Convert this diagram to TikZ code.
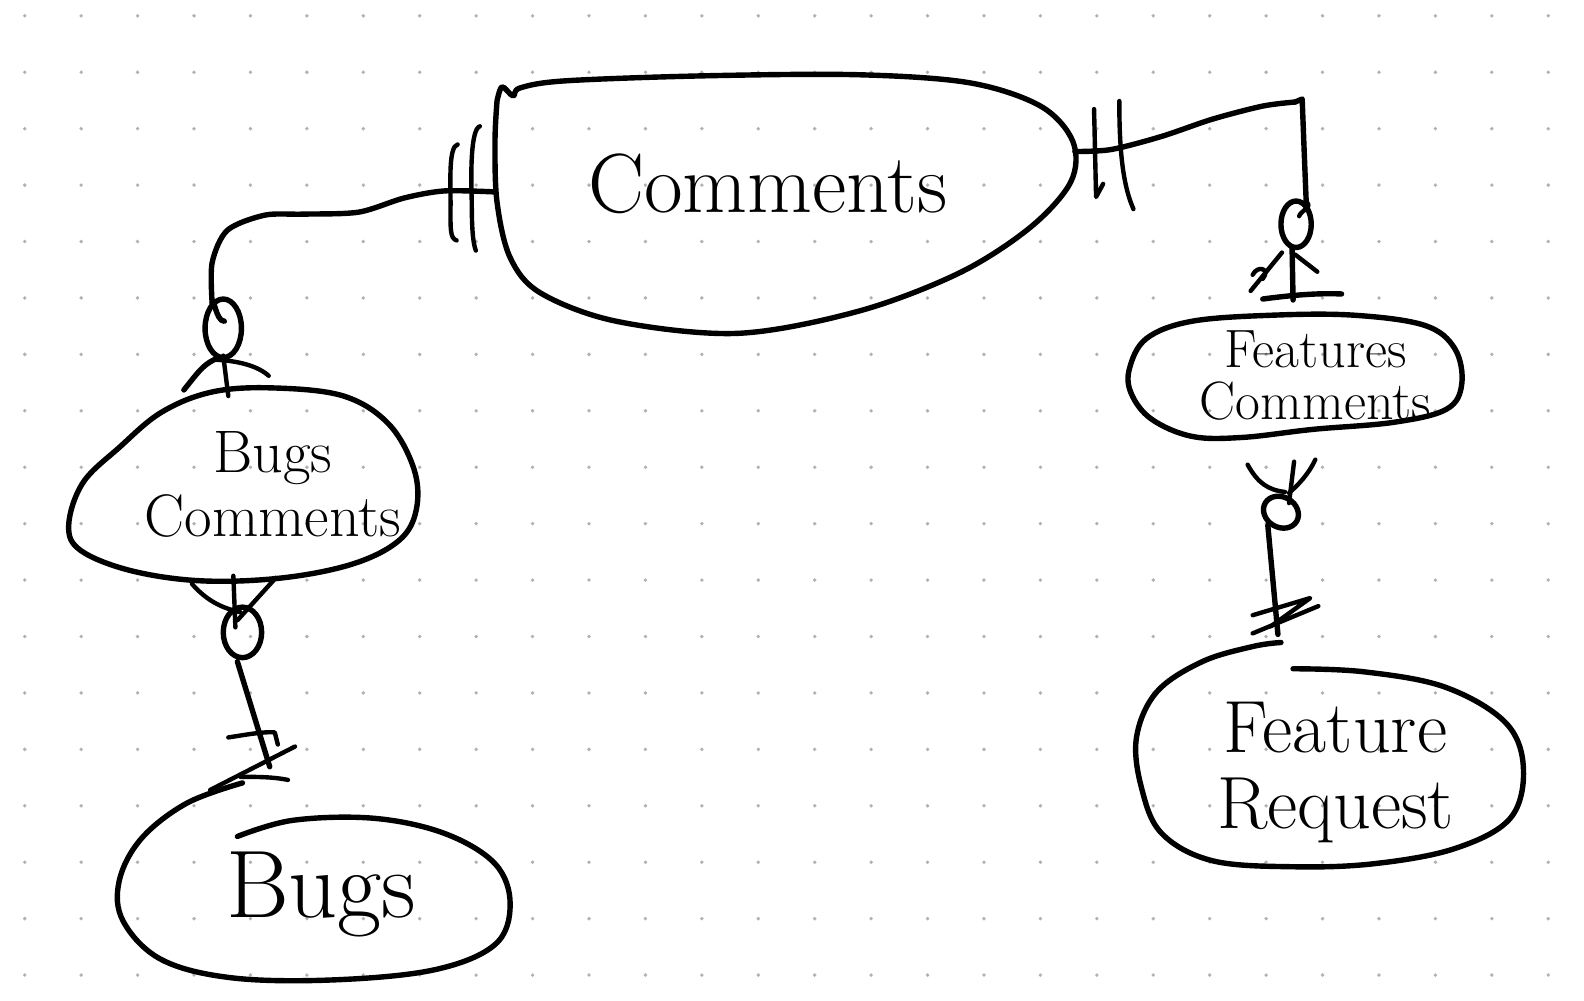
\documentclass[tikz,border=0pt]{standalone}
\usetikzlibrary{calc}
\begin{document}
\begin{tikzpicture}[x=1.0102pt,y=-1.0102pt,
  ink/.style={line width=5.4pt,line cap=round,line join=round,black},
  thin ink/.style={line width=4.4pt,line cap=round,line join=round,black},
  label/.style={align=center,inner sep=0pt}]
\useasboundingbox[fill=white] (0,0) rectangle (1568,990);
% dot grid (full-size pixel coords)
\begin{scope}[x=0.98990pt,y=-0.98990pt]
\foreach \i in {0,...,27}{\foreach \j in {0,...,17}{
  \fill[black!30] ({25+57*\i},{16+57*\j}) circle (1.9pt);}}
\end{scope}

% ---------- entities ----------
% Comments
\draw[ink] plot[smooth,tension=0.55] coordinates{(492,100) (497,86) (508,95) (515,87) (560,80) (700,75) (850,74) (960,82) (1030,105) (1062,140) (1060,180) (1020,225) (950,270) (850,308) (730,330) (610,318) (535,290) (505,255) (492,200) (490,140) (492,100)};
\node[label,font=\fontsize{84}{90}\selectfont] (comments) at (760,182) {Comments};
\coordinate (cL) at (490,190);
\coordinate (cR) at (1064,150);

% Bugs Comments
\draw[ink] plot[smooth cycle,tension=0.6] coordinates{(68,520) (82,478) (118,443) (160,408) (210,388) (270,384) (340,392) (385,420) (410,465) (412,505) (395,535) (350,558) (280,572) (200,575) (130,565) (80,545)};
\node[label,font=\fontsize{60}{64}\selectfont] (bugscomments) at (270,480) {Bugs\\Comments};

% Bugs
\draw[ink] plot[smooth,tension=0.6] coordinates{(235,828) (290,812) (370,810) (440,825) (490,855) (505,895) (490,935) (430,960) (330,970) (230,968) (160,950) (122,912) (118,872) (140,830) (185,795) (240,775)};
\node[label,font=\fontsize{96}{100}\selectfont] (bugs) at (318,885) {Bugs};

% Features Comments
\draw[ink] plot[smooth cycle,tension=0.6] coordinates{(1118,365) (1135,335) (1180,318) (1260,312) (1340,312) (1410,322) (1440,345) (1447,380) (1432,405) (1380,418) (1300,425) (1230,433) (1180,432) (1140,415) (1120,390)};
\node[label,font=\fontsize{54}{52}\selectfont] (featcomments) at (1302,372) {Features\\Comments};

% Feature Request
\draw[ink] plot[smooth,tension=0.6] coordinates{(1280,662) (1350,665) (1430,680) (1490,715) (1508,760) (1495,810) (1440,840) (1360,855) (1280,858) (1200,852) (1150,825) (1130,780) (1125,730) (1145,685) (1190,655) (1240,640) (1268,636)};
\node[label,font=\fontsize{74}{76}\selectfont] (featrequest) at (1322,765) {Feature\\Request};

% ---------- connector: Comments -- Bugs Comments ----------
\coordinate (lEnd) at (210,300);
\draw[ink] plot[smooth,tension=0.5] coordinates{(cL) (440,189) (400,196) (355,210) (300,212) (262,213) (225,228) (210,260) (lEnd)};
\draw[ink] (lEnd) to[out=80,in=180] (222,318);
\draw[ink] (221,325) ellipse[x radius=18,y radius=29];
\draw[thin ink] (453,143) .. controls (444,145) and (446,180) .. (446,200) .. controls (446,225) and (445,236) .. (452,238);
\draw[thin ink] (475,125) .. controls (466,128) and (466,170) .. (467,200) .. controls (467,225) and (468,240) .. (471,248);
\draw[ink] (182,386) .. controls (195,370) and (200,362) .. (212,356);
\draw[thin ink] (212,356) .. controls (235,357) and (255,362) .. (266,372);
\draw[thin ink] (221,352) -- (226,392);

% ---------- connector: Comments -- Features Comments ----------
\coordinate (rEnd) at (1293,200);
\draw[ink] plot[smooth,tension=0.5] coordinates{(cR) (1100,148) (1150,135) (1200,118) (1250,105) (1282,101)};
\draw[ink] (1282,101) -- (1289,98) -- (1291,150) -- (rEnd);
\draw[thin ink] (1083,108) -- (1085,195) -- (1092,182);
\draw[thin ink] (1108,100) .. controls (1108,140) and (1110,180) .. (1122,207);
\draw[ink] (1283,222) ellipse[x radius=15,y radius=23];
\draw[thin ink] (rEnd) .. controls (1300,205) and (1288,208) .. (1286,214);
\draw[thin ink] (1269,250) -- (1238,288);
\draw[thin ink] (1240,272) .. controls (1245,262) and (1258,266) .. (1250,276);
\draw[ink] (1279,245) -- (1280,297);
\draw[thin ink] (1282,252) -- (1304,269);
\draw[ink] (1250,296) .. controls (1280,292) and (1305,290) .. (1328,291);

% ---------- connector: Bugs Comments -- Bugs ----------
\draw[thin ink] (190,578) .. controls (205,595) and (220,602) .. (238,606);
\draw[thin ink] (231,570) -- (233,621);
\draw[thin ink] (235,614) -- (273,572);
\draw[ink] (240,626) ellipse[x radius=19,y radius=25];
\draw[ink] (235,655) -- (267,759);
\draw[thin ink] (226,730) .. controls (245,727) and (262,724) .. (272,725) -- (275,737);
\draw[thin ink] (208,782) -- (292,739);
\draw[thin ink] (238,769) .. controls (255,769) and (270,769) .. (285,772);

% ---------- connector: Features Comments -- Feature Request ----------
\draw[thin ink] (1235,460) .. controls (1245,478) and (1255,485) .. (1272,487);
\draw[thin ink] (1302,455) .. controls (1295,470) and (1285,480) .. (1276,488);
\draw[thin ink] (1281,457) -- (1276,498);
\draw[ink, rotate around={-30:(1268,507)}] (1268,507) ellipse[x radius=18,y radius=15];
\draw[ink] (1255,520) -- (1265,628);
\draw[thin ink] (1240,609) -- (1297,592) -- (1258,620);
\draw[thin ink] (1240,627) -- (1305,600);
\end{tikzpicture}
\end{document}
